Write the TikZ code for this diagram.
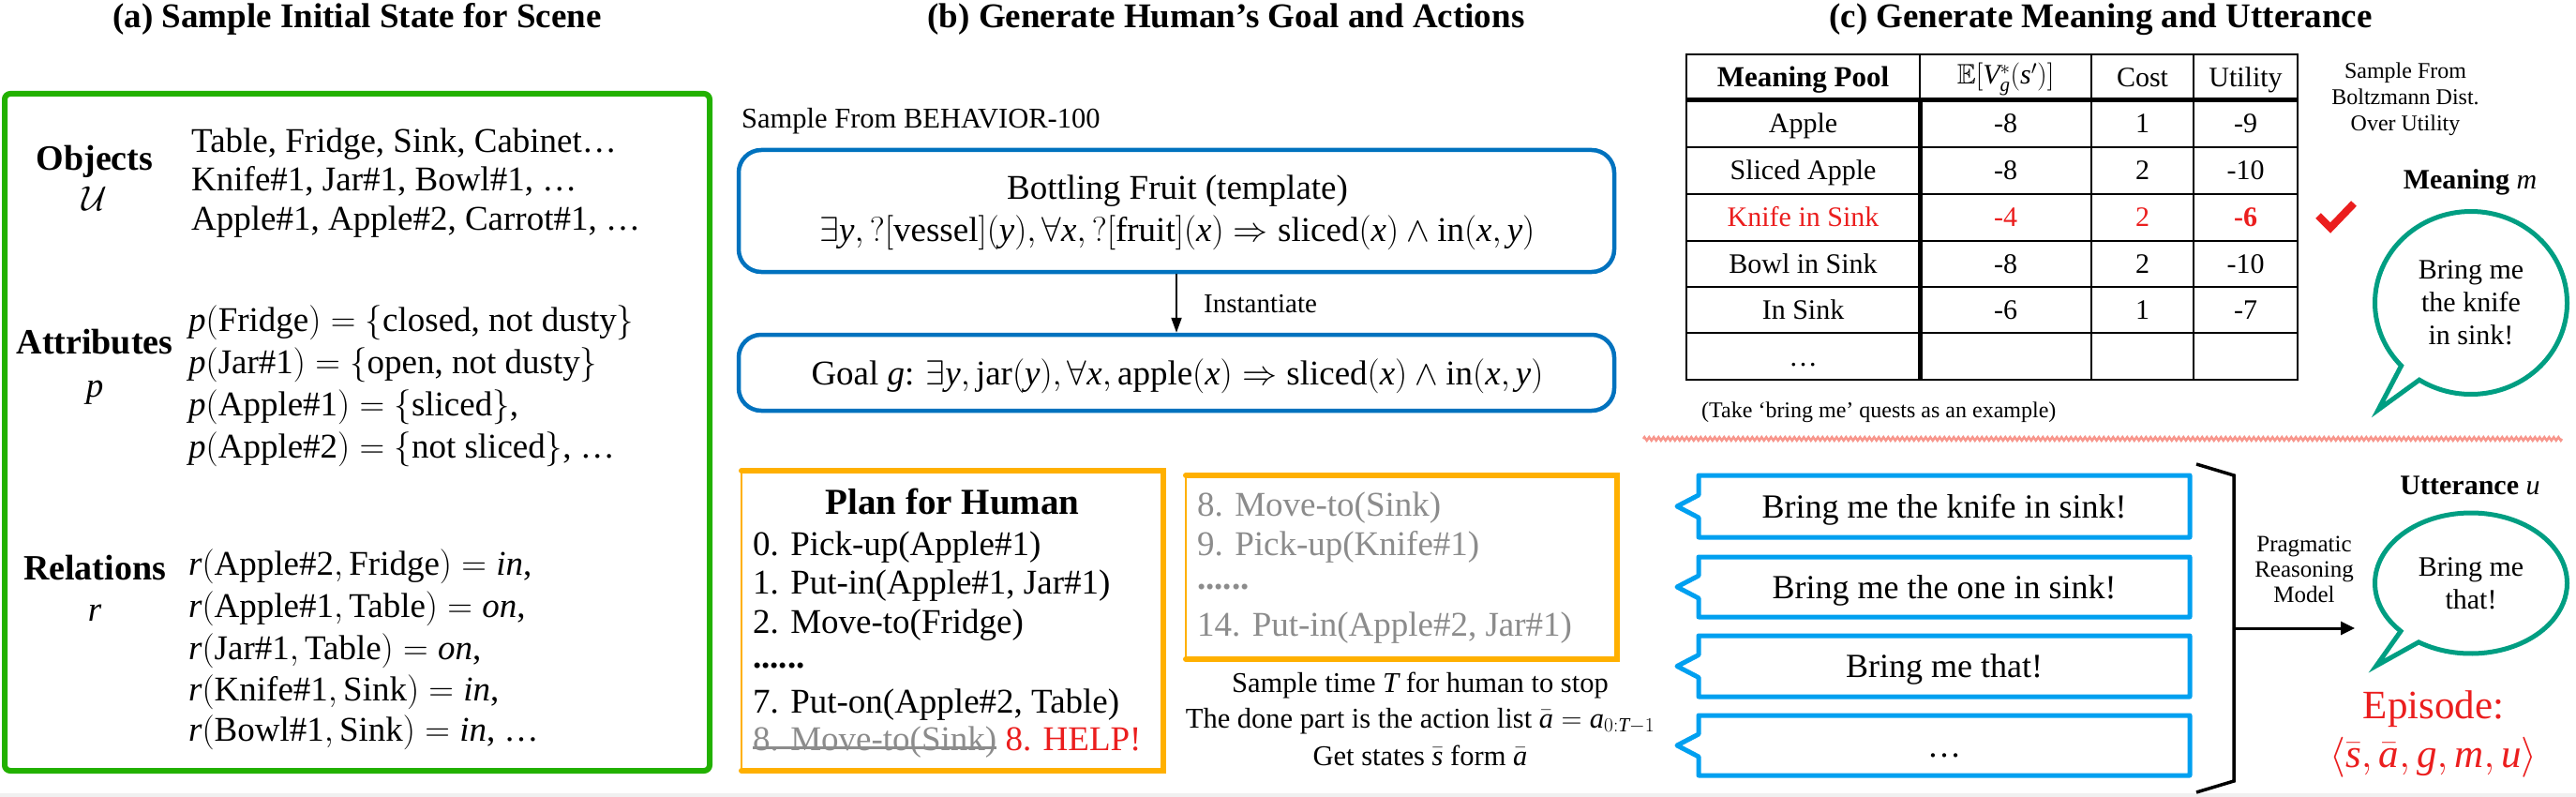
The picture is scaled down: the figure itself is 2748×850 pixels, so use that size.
\RequirePackage{fix-cm}
\documentclass[tikz,border=0pt]{standalone}
\usepackage{amsmath}
\usepackage{amssymb}
\usepackage{fontspec}
\setmainfont{Liberation Serif}
\usetikzlibrary{shapes.callouts,arrows.meta,decorations.pathmorphing}
\newcommand{\mvar}[1]{\mathit{#1}}
\definecolor{gboxc}{RGB}{34,177,0}
\definecolor{bboxc}{RGB}{0,114,190}
\definecolor{oboxc}{RGB}{255,176,0}
\definecolor{uboxc}{RGB}{0,160,240}
\definecolor{tealc}{RGB}{0,158,130}
\definecolor{redc}{RGB}{235,30,30}
\definecolor{grayc}{RGB}{140,140,140}
\definecolor{pinkc}{RGB}{248,150,140}
\tikzset{
  txt/.style={inner sep=0pt, anchor=base},
  txtl/.style={inner sep=0pt, anchor=base west},
  fA/.style={font=\fontsize{37}{43}\selectfont},
  fB/.style={font=\fontsize{37}{42}\selectfont},
  fC/.style={font=\fontsize{30.5}{35}\selectfont},
  fE/.style={font=\fontsize{43}{50}\selectfont},
  ttl/.style={txt, font=\fontsize{37}{42}\selectfont\bfseries},
  lab/.style={txt, font=\fontsize{38}{44}\selectfont\bfseries},
  gbox/.style={draw=gboxc, line width=6pt, rounded corners=6pt},
  bbox/.style={draw=bboxc, line width=4.5pt, rounded corners=24pt, inner sep=0pt},
  obox/.style={draw=oboxc, line width=6pt, line cap=round},
  oboxl/.style={draw=oboxc, line width=2.5pt},
  ubox/.style={rectangle callout, draw=uboxc, line width=5pt, inner sep=0pt,
     callout pointer width=24pt, line join=round,
     font=\fontsize{36}{40}\selectfont, text height=24pt, text depth=0pt},
  bubble/.style={ellipse callout, draw=tealc, line width=5pt, inner sep=0pt,
     align=center, callout pointer arc=14, font=\fontsize{30}{35}\selectfont},
  cell/.style={inner sep=0pt, font=\fontsize{30}{35}\selectfont, text height=20pt, text depth=0pt},
  thin/.style={line width=2.5pt},
  thick/.style={line width=5pt},
}
\begin{document}
\begin{tikzpicture}[x=1pt,y=-1pt]
\useasboundingbox (0,0) rectangle (2748,850);
\fill[white] (0,0) rectangle (2748,850);
\fill[gray!12] (0,846) rectangle (2748,850);

% ---------------- (a) ----------------
\node[ttl] (ta) at (381,30) {(a) Sample Initial State for Scene};
\draw[gbox] (5,100) rectangle (757,822);
\node[lab] (lo) at (101,182) {Objects};
\node[fA,txt] (lu) at (101,225) {$\mathcal{U}$};
\node[fA,txtl] (o1) at (204,163) {Table, Fridge, Sink, Cabinet\dots};
\node[fA,txtl] (o2) at (204,204) {Knife\#1, Jar\#1, Bowl\#1, \dots};
\node[fA,txtl] (o3) at (204,246) {Apple\#1, Apple\#2, Carrot\#1, \dots};

\node[lab] (la) at (101,377) {Attributes};
\node[fA,txt] (lp) at (101,423) {$\mvar{p}$};
\node[fA,txtl] (a1) at (201,353) {$\mvar{p}(\text{Fridge})=\{\text{closed, not dusty}\}$};
\node[fA,txtl] (a2) at (201,398) {$\mvar{p}(\text{Jar\#1})=\{\text{open, not dusty}\}$};
\node[fA,txtl] (a3) at (201,443) {$\mvar{p}(\text{Apple\#1})=\{\text{sliced}\}$,};
\node[fA,txtl] (a4) at (201,488) {$\mvar{p}(\text{Apple\#2})=\{\text{not sliced}\}$, \dots};

\node[lab] (lr) at (101,618) {Relations};
\node[fA,txt] (lrr) at (101,662) {$\mvar{r}$};
\node[fA,txtl] (r1) at (201,613) {$\mvar{r}(\text{Apple\#2}, \text{Fridge}) = \mvar{in}$,};
\node[fA,txtl] (r2) at (201,658) {$\mvar{r}(\text{Apple\#1}, \text{Table}) = \mvar{on}$,};
\node[fA,txtl] (r3) at (201,703) {$\mvar{r}(\text{Jar\#1}, \text{Table}) = \mvar{on}$,};
\node[fA,txtl] (r4) at (201,747) {$\mvar{r}(\text{Knife\#1}, \text{Sink}) = \mvar{in}$,};
\node[fA,txtl] (r5) at (201,790) {$\mvar{r}(\text{Bowl\#1}, \text{Sink}) = \mvar{in}$, \dots};

% ---------------- (b) ----------------
\node[ttl] (tb) at (1308,30) {(b) Generate Human’s Goal and Actions};
\node[fC,txtl] (sb) at (791,137) {Sample From BEHAVIOR-100};
\node[bbox, minimum width=934pt, minimum height=130pt] (b1) at (1255,225) {};
\node[fB,txt] (b1t) at (1256,213) {Bottling Fruit (template)};
\node[fB,txt] (b1f) at (1256,258) {$\exists \mvar{y}, ?[\text{vessel}](\mvar{y}), \forall \mvar{x}, ?[\text{fruit}](\mvar{x}) \Rightarrow \text{sliced}(\mvar{x}) \wedge \text{in}(\mvar{x}, \mvar{y})$};
\node[bbox, minimum width=934pt, minimum height=81pt] (b2) at (1255,397.5) {};
\node[fB,txt] (b2t) at (1256,410) {Goal $\mvar{g}$: $\exists \mvar{y}, \text{jar}(\mvar{y}), \forall \mvar{x}, \text{apple}(\mvar{x}) \Rightarrow \text{sliced}(\mvar{x}) \wedge \text{in}(\mvar{x}, \mvar{y})$};
\draw[line width=2pt, -{Triangle[length=16pt,width=11pt]}] (b1.south) -- (b2.north);
\node[font=\fontsize{29}{32}\selectfont,txtl] (inst) at (1284,333) {Instantiate};

\draw[obox] (791,502) -- (1241,502) -- (1241,822) -- (791,822);
\draw[oboxl] (791,502) -- (791,822);
\node[txt, font=\fontsize{39}{44}\selectfont\bfseries] (ph) at (1016,548) {Plan for Human};
\node[fA,txtl] (p0) at (803,592) {0. Pick-up(Apple\#1)};
\node[fA,txtl] (p1) at (803,633) {1. Put-in(Apple\#1, Jar\#1)};
\node[fA,txtl] (p2) at (803,675) {2. Move-to(Fridge)};
\node[fA,txtl] (pd) at (803,712) {\textbf{......}};
\node[fA,txtl] (p7) at (803,760) {7. Put-on(Apple\#2, Table)};
\node[fA,txtl,text=grayc] (p8) at (803,800) {8. Move-to(Sink)};
\draw[grayc, line width=2.5pt] (p8.mid west) -- (p8.mid east);
\node[fA,txtl,text=redc] (ph8) at ([xshift=9pt]p8.base east) {8. HELP!};

\draw[obox] (1265,507) -- (1725,507) -- (1725,703) -- (1265,703);
\draw[oboxl] (1265,507) -- (1265,703);
\node[fA,txtl,text=grayc] (g8) at (1277,550) {8. Move-to(Sink)};
\node[fA,txtl,text=grayc] (g9) at (1277,592) {9. Pick-up(Knife\#1)};
\node[fA,txtl,text=grayc] (gd) at (1277,628) {\textbf{......}};
\node[fA,txtl,text=grayc] (g14) at (1277,678) {14. Put-in(Apple\#2, Jar\#1)};

\node[fC,txt] (s1) at (1515,738) {Sample time $\mvar{T}$ for human to stop};
\node[fC,txt] (s2) at (1515,776) {The done part is the action list $\bar{\mvar{a}} = \mvar{a}_{0:\mvar{T}-1}$};
\node[fC,txt] (s3) at (1515,816) {Get states $\bar{\mvar{s}}$ form $\bar{\mvar{a}}$};

% ---------------- (c) ----------------
\node[ttl] (tc) at (2241,30) {(c) Generate Meaning and Utterance};
% table grid
\draw[thin] (1799,58) rectangle (2451,405);
\foreach \yy in {157,207,257,306,355} \draw[thin] (1799,\yy) -- (2451,\yy);
\draw[thick] (1799,107) -- (2451,107);
\draw[thin] (2048,58) -- (2048,107);
\draw[thick] (2048,107) -- (2048,405);
\draw[thin] (2231,58) -- (2231,405);
\draw[thin] (2340,58) -- (2340,405);
% header
\node[cell,font=\fontsize{31}{35}\selectfont\bfseries] (h1) at (1923.5,82.5) {Meaning Pool};
\node[cell] (h2) at (2139.5,80) {$\mathbb{E}[\mvar{V}^*_{\mvar{g}}(\mvar{s}')]$};
\node[cell] (h3) at (2285.5,82.5) {Cost};
\node[cell] (h4) at (2395.5,82.5) {Utility};
% rows
\node[cell] (c11) at (1923.5,132) {Apple};
\node[cell] (c12) at (2139.5,132) {-8};
\node[cell] (c13) at (2285.5,132) {1};
\node[cell] (c14) at (2395.5,132) {-9};
\node[cell] (c21) at (1923.5,182) {Sliced Apple};
\node[cell] (c22) at (2139.5,182) {-8};
\node[cell] (c23) at (2285.5,182) {2};
\node[cell] (c24) at (2395.5,182) {-10};
\node[cell,text=redc] (c31) at (1923.5,232) {Knife in Sink};
\node[cell,text=redc] (c32) at (2139.5,232) {-4};
\node[cell,text=redc] (c33) at (2285.5,232) {2};
\node[cell,text=redc,font=\fontsize{30}{35}\selectfont\bfseries] (c34) at (2395.5,232) {-6};
\node[cell] (c41) at (1923.5,281.5) {Bowl in Sink};
\node[cell] (c42) at (2139.5,281.5) {-8};
\node[cell] (c43) at (2285.5,281.5) {2};
\node[cell] (c44) at (2395.5,281.5) {-10};
\node[cell] (c51) at (1923.5,330.5) {In Sink};
\node[cell] (c52) at (2139.5,330.5) {-6};
\node[cell] (c53) at (2285.5,330.5) {1};
\node[cell] (c54) at (2395.5,330.5) {-7};
\node[fC,txt] (c61) at (1923.5,390) {\dots};

\node[font=\fontsize{24}{28}\selectfont, align=center, inner sep=0pt] (boltz) at (2566,106) {Sample From\\Boltzmann Dist.\\Over Utility};
\node[txt, font=\fontsize{30}{35}\selectfont\bfseries] (mm) at (2635,202) {Meaning $\mvar{m}$};
\draw[redc, line width=8pt, line join=miter] (2473,230) -- (2486,243) -- (2511,217);
\node[bubble, minimum width=205pt, minimum height=195pt, callout absolute pointer={(2537,437)}] (mb) at (2636,323) {Bring me\\the knife\\in sink!};

\node[font=\fontsize{24}{28}\selectfont, txtl] (take) at (1815,445) {(Take ‘bring me’ quests as an example)};
\draw[pinkc, line width=2.5pt, decorate, decoration={zigzag, segment length=5pt, amplitude=1.8pt}] (1753,468) -- (2733,468);

\node[ubox, minimum width=524pt, minimum height=66pt, callout absolute pointer={(1789,540)}] (u1) at (2074,540) {Bring me the knife in sink!};
\node[ubox, minimum width=524pt, minimum height=64pt, callout absolute pointer={(1789,626)}] (u2) at (2074,626) {Bring me the one in sink!};
\node[ubox, minimum width=524pt, minimum height=65pt, callout absolute pointer={(1789,710.5)}] (u3) at (2074,710.5) {Bring me that!};
\node[ubox, minimum width=524pt, minimum height=64pt, callout absolute pointer={(1789,795)}] (u4) at (2074,795) {\dots};

\coordinate (k1) at (2343,495);
\coordinate (k2) at (2383,507);
\coordinate (k3) at (2383,833);
\coordinate (k4) at (2343,845);
\coordinate (km) at (2383,670);
\coordinate (ke) at (2512,670);
\draw[line width=3.5pt, line join=miter] (k1) -- (k2) -- (k3) -- (k4);
\draw[line width=3pt, -{Triangle[length=15pt,width=14pt]}] (km) -- (ke);
\node[font=\fontsize{25}{27}\selectfont, align=center, inner sep=0pt] (prag) at (2458,607) {Pragmatic\\Reasoning\\Model};

\node[txt, font=\fontsize{30}{35}\selectfont\bfseries] (ut) at (2635,527) {Utterance $\mvar{u}$};
\node[bubble, minimum width=205pt, minimum height=150pt, callout absolute pointer={(2535,710)}] (ub) at (2636,622) {Bring me\\that!};
\node[fE,txt,text=redc] (ep) at (2596,766) {Episode:};
\node[fE,txt,text=redc] (ep2) at (2596,818) {$\langle \bar{\mvar{s}}, \bar{\mvar{a}}, \mvar{g}, \mvar{m}, \mvar{u}\rangle$};
\end{tikzpicture}
\end{document}
